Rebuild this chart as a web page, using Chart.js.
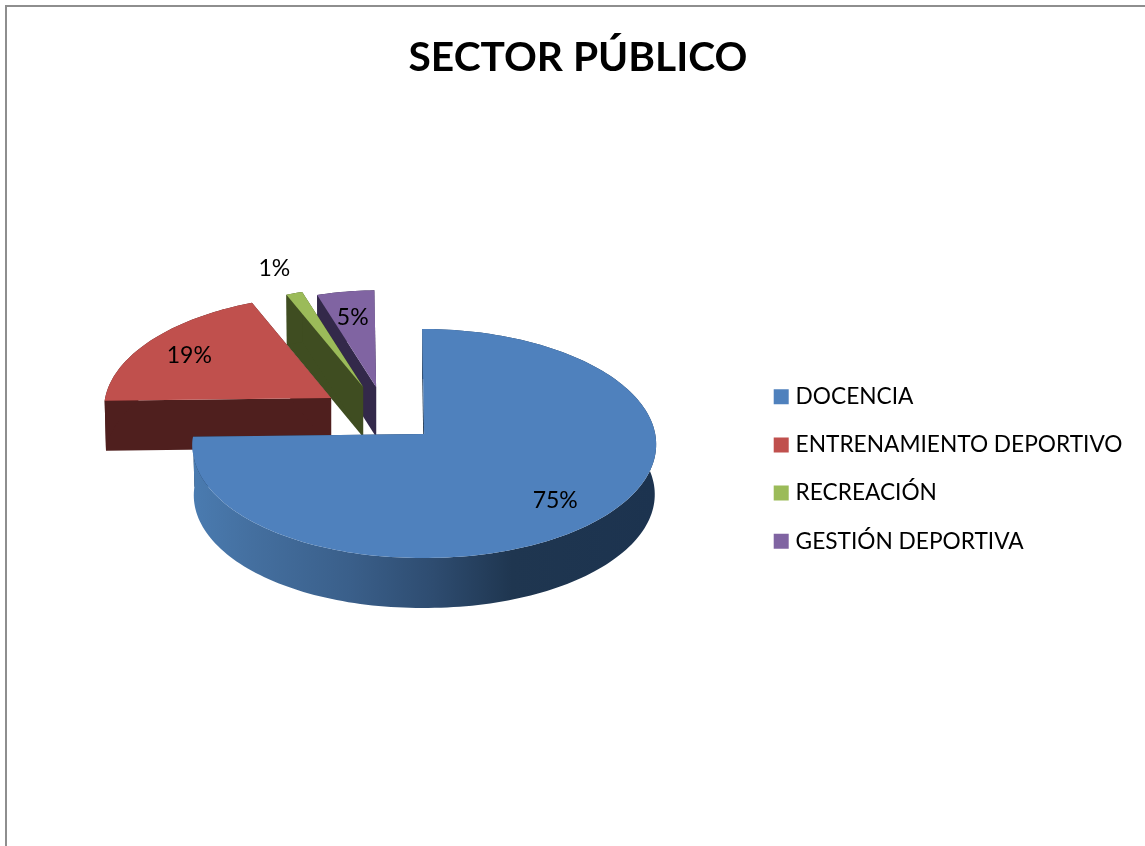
<!DOCTYPE html>
<html>
<head>
<meta charset="utf-8">
<title>Sector público</title>
<script src="https://cdn.jsdelivr.net/npm/chart.js@4"></script>
<style>
    html, body { margin: 0; padding: 0; background: #fff; overflow: hidden; }
    #frame { position: absolute; left: 5px; top: 5px; width: 1200px; height: 900px;
             border-left: 2px solid #8e8e8e; border-top: 2px solid #8e8e8e; }
    canvas { display: block; }
</style>
</head>
<body>
<div id="frame"><canvas id="pie" width="1142" height="839"></canvas></div>
<script>
const categories = ["DOCENCIA", "ENTRENAMIENTO DEPORTIVO", "RECREACIÓN", "GESTIÓN DEPORTIVA"];
const percents = [75, 19, 1.3, 4.7];

const topColors = ["#4f81bd", "#c0504d", "#9bbb59", "#8064a2"];
const wallColors = ["#1d3550", "#4f1f1e", "#3f4d21", "#33294a"];

// how the flat pie is laid down in "3D"
const tilt = 0.492;
const perspective = 0.083;
const depth = 50;
const explodeX = [0, -93, -61, -48];
const explodeY = [0, -36, -47, -47];
const sliceScale = [1, 0.98, 0.95, 0.92];
const labelRadius = [0.76, 0.78, 1.32, 0.75];

function project(el, i, angle, r, lower) {
    const R = el.outerRadius * sliceScale[i];
    const u = r * Math.cos(angle), v = r * Math.sin(angle);
    const w = 1 - perspective * v;
    let x = R * u / w;
    let y = R * tilt * v / w;
    x += y * 0.018;
    y += Math.max(0, -x) * 0.0125;
    if (lower) {
        x *= 0.994;
        y += depth;
    }
    return { x: el.x + explodeX[i] + x, y: el.y + explodeY[i] + y };
}

function arcPoints(el, i, lower) {
    const pts = [];
    const n = Math.max(4, Math.round((el.endAngle - el.startAngle) * 40));
    for (let s = 0; s <= n; s++) {
        const a = el.startAngle + (el.endAngle - el.startAngle) * s / n;
        pts.push(project(el, i, a, 1, lower));
    }
    return pts;
}

function fillPoly(ctx, pts) {
    ctx.beginPath();
    pts.forEach((p, k) => k ? ctx.lineTo(p.x, p.y) : ctx.moveTo(p.x, p.y));
    ctx.closePath();
    ctx.fill();
}

const tiltedPie = {
    id: "tiltedPie",
    afterLayout(chart) {
        // title sits over the whole frame, legend lower than the pie
        chart.titleBlock.left = 2 * 571 - chart.titleBlock.right;
        chart.legend.top += 133;
        chart.legend.bottom += 133;
    },
    beforeDatasetsDraw(chart) {
        const ctx = chart.ctx;
        const arcs = chart.getDatasetMeta(0).data;
        ctx.save();
        // back to front
        [3, 2, 1, 0].forEach(i => {
            const el = arcs[i];
            const apexTop = project(el, i, 0, 0, false);
            const apexLow = project(el, i, 0, 0, true);
            const top = arcPoints(el, i, false);
            const low = arcPoints(el, i, true);
            const last = top.length - 1;
            ctx.fillStyle = wallColors[i];
            fillPoly(ctx, [apexTop, top[0], low[0], apexLow]);
            fillPoly(ctx, [apexTop, top[last], low[last], apexLow]);
            if (i === 0) {
                const x0 = el.x - el.outerRadius;
                const w = el.outerRadius * 2;
                const wall = ctx.createLinearGradient(x0, 0, x0 + w, 0);
                wall.addColorStop(0, "#4a7bb0");
                wall.addColorStop(0.13, "#446f9f");
                wall.addColorStop(0.34, "#3a5f8a");
                wall.addColorStop(0.52, "#2e4c70");
                wall.addColorStop(0.69, "#1f3650");
                wall.addColorStop(1, "#1c334f");
                ctx.fillStyle = wall;
            }
            fillPoly(ctx, top.concat(low.slice().reverse()));
            ctx.fillStyle = topColors[i];
            fillPoly(ctx, [apexTop].concat(top));
        });
        ctx.fillStyle = "#000";
        ctx.font = "23px Lato";
        ctx.textAlign = "center";
        ctx.textBaseline = "middle";
        arcs.forEach((el, i) => {
            const mid = (el.startAngle + el.endAngle) / 2;
            const p = project(el, i, mid, labelRadius[i], false);
            ctx.fillText(Math.round(percents[i]) + "%", p.x, p.y + 3);
        });
        ctx.restore();
        return false;
    }
};

new Chart(document.getElementById("pie"), {
    type: "pie",
    data: {
        labels: categories,
        datasets: [{ data: percents, backgroundColor: topColors, borderWidth: 0 }],
    },
    plugins: [tiltedPie],
    options: {
        responsive: false,
        animation: false,
        layout: { padding: { left: 88.5, right: 16.5, top: 0, bottom: 181 } },
        plugins: {
            tooltip: { enabled: false },
            title: {
                display: true,
                text: "SECTOR PÚBLICO",
                color: "#000",
                font: { family: "Lato", size: 40.7, weight: "bold", lineHeight: 1.2 },
                padding: { top: 26.5, bottom: 120.5 },
            },
            legend: {
                position: "right",
                labels: {
                    color: "#000",
                    font: { family: "Lato", size: 22.7 },
                    boxWidth: 6,
                    boxHeight: 6,
                    padding: 25.5,
                    generateLabels: chart => categories.map((name, i) => ({
                        text: name,
                        fillStyle: topColors[i],
                        strokeStyle: topColors[i],
                        lineWidth: 9,
                        index: i,
                    })),
                },
            },
        },
    },
});
</script>
</body>
</html>
